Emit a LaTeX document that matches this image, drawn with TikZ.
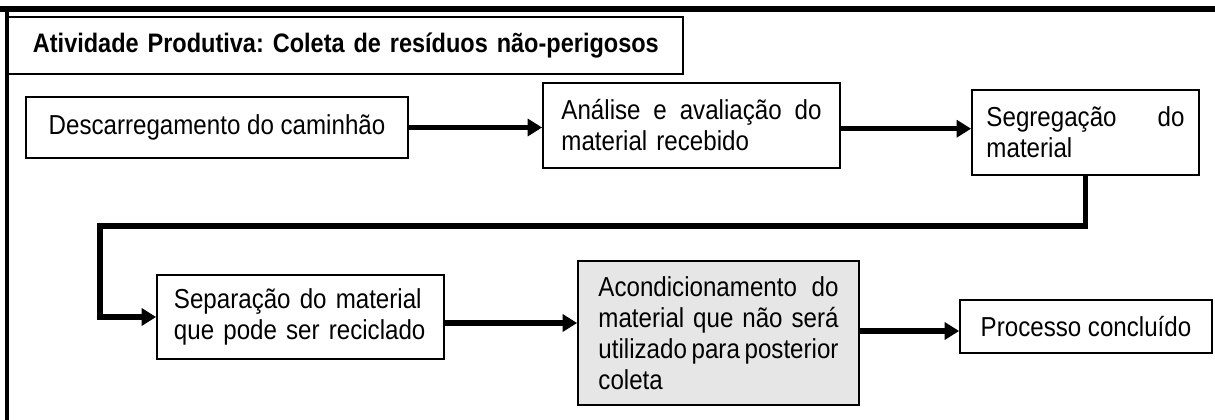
\documentclass[tikz,border=0pt]{standalone}
\usepackage{fontspec}
\setmainfont{Liberation Sans}[FakeStretch=0.88]
\usepackage{xcolor}
\usetikzlibrary{arrows.meta}
\definecolor{black}{RGB}{0,0,0}
\definecolor{cinza}{RGB}{230,230,230}

\tikzset{
    etapa/.style={draw=black, line width=1.2pt, inner sep=0pt, font=\fontsize{19.5pt}{22pt}\selectfont},
    seta/.style={black, line width=3.6pt, -{Triangle[length=0.36cm, width=0.42cm]}},
}

\begin{document}
\frenchspacing
\begin{tikzpicture}[x=0.025cm, y=-0.025cm]

        \useasboundingbox (0,0) rectangle (1215,420);
        \clip (0,0) rectangle (1215,420);
        \draw[black, line width=4pt] (0,9) -- (1215,9);
        \draw[black, line width=3pt] (7,430) -- (7,9);

        \node[etapa, minimum width=16.875cm, minimum height=1.425cm, text width=15.625cm, align=left, font=\fontsize{19pt}{22pt}\selectfont\bfseries] (titulo) at (345.5,45.5) {\mbox{Atividade Produtiva: Coleta de resíduos não-perigosos}};

        \node[etapa, minimum width=9.55cm, minimum height=1.525cm] (descarga) at (217,127.5) {Descarregamento do caminhão};
        \node[etapa, minimum width=7.425cm, minimum height=2.125cm, text width=6.5cm, align=left] (analise) at (691.5,125.5) {Análise\hfill e\hfill avaliação\hfill do\\material recebido};
        \node[etapa, minimum width=5.675cm, minimum height=2.125cm, text width=4.95cm, align=left] (segrega) at (1085.5,132.5) {Segregação\hfill do\\material};
        \node[etapa, minimum width=7.175cm, minimum height=2.1cm, text width=6.325cm, align=left] (separa) at (300.5,317) {Separação do material\\que pode ser reciclado};
        \node[etapa, fill=cinza, minimum width=7.025cm, minimum height=3.6cm, text width=6cm, align=left] (acond) at (718.5,333) {Acondicionamento\hfill do\\material\hfill que\hfill não\hfill será\\utilizado\hfill para\hfill posterior\\coleta};
        \node[etapa, minimum width=6.3cm, minimum height=1.325cm] (fim) at (1086,326.5) {Processo concluído};

        \coordinate (volta) at (100,226);

        \draw[seta] (descarga.east) -- (descarga.east -| analise.west);
        \draw[seta] ([yshift=-0.08cm]analise.east) -- ([yshift=-0.08cm]analise.east -| segrega.west);
        \draw[seta] (segrega.south) |- (volta) |- (separa.west);
        \draw[seta] ([yshift=-0.15cm]separa.east) -- ([yshift=-0.15cm]separa.east -| acond.west);
        \draw[seta] ([yshift=0.05cm]acond.east) -- ([yshift=0.05cm]acond.east -| fim.west);

\end{tikzpicture}
\end{document}
